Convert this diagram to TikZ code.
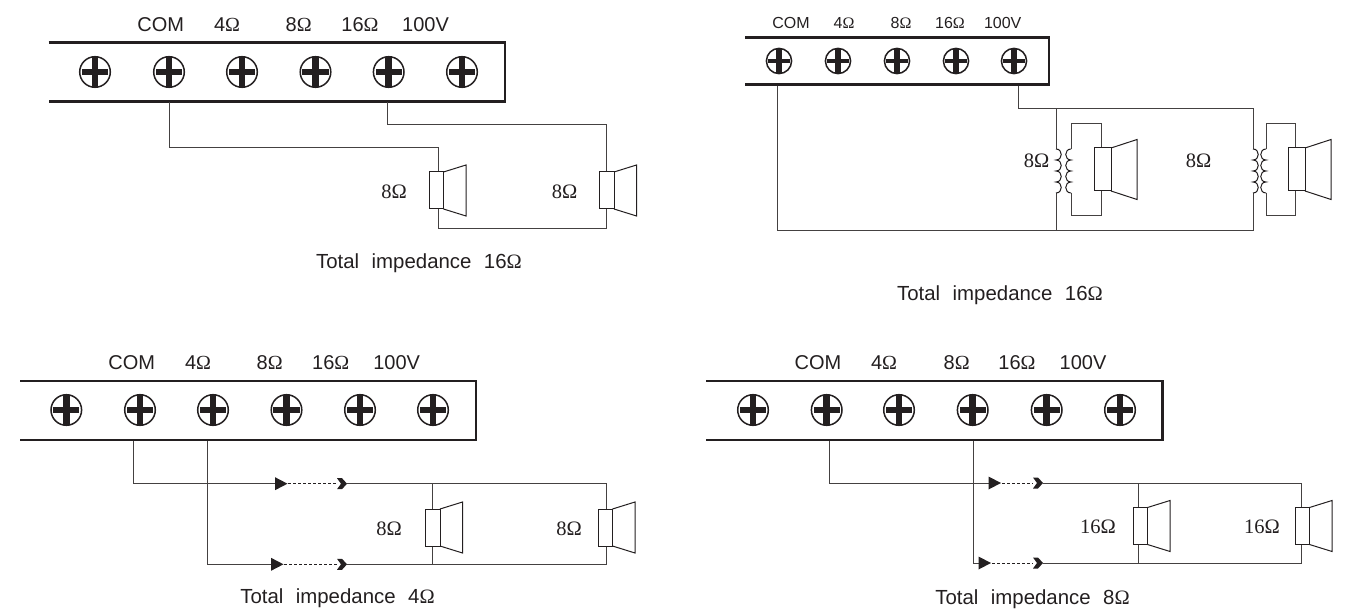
\documentclass[tikz,border=0pt]{standalone}
\usepackage{fontspec}
\setmainfont{Liberation Sans}
\newfontfamily\serifomega{Liberation Serif}
\definecolor{ink}{HTML}{231F20}
\newcommand{\Om}{{\serifomega Ω}}
\newcommand{\gp}{\hspace{12.5pt}}
\tikzset{
  x=1pt,y=-1pt,
  every node/.style={inner sep=0pt,outer sep=0pt,text=ink},
  bar/.style={draw=ink,line width=2.8pt,line join=miter},
  wire/.style={draw=ink!85,line width=1pt,line join=miter},
  thinwire/.style={draw=ink,line width=1pt,dash pattern=on 2.5pt off 2.5pt},
  big/.style={font=\fontsize{20}{22}\selectfont},
  small/.style={font=\fontsize{16}{18}\selectfont},
  ohm/.style={font=\fontsize{20.5}{22}\selectfont\serifomega},
  total/.style={font=\fontsize{20.4}{22}\selectfont},
  pics/screw/.style={code={
    \draw[ink,line width=1.5pt,fill=white] (0,0) circle[radius=#1];
    \fill[ink] (-#1*0.85,-#1*0.19) rectangle (#1*0.85,#1*0.19);
    \fill[ink] (-#1*0.22,-#1*0.95) rectangle (#1*0.22,#1*0.95);
  }},
  pics/speaker/.style={code={
    \draw[ink,line width=1pt,fill=white] (-9,-18.5) rectangle (5.5,18.5);
    \draw[ink,line width=1pt,line join=miter] (5.5,-18.5) -- (28,-25.5) -- (28,25.5) -- (5.5,18.5);
  }},
  pics/bigspeaker/.style={code={
    \draw[ink,line width=1pt,fill=white] (-9,-21.5) rectangle (8,21.5);
    \draw[ink,line width=1pt,line join=miter] (8,-21.5) -- (34,-30) -- (34,30) -- (8,21.5);
  }},
  pics/coil/.style={code={
    \draw[ink,line width=1pt] (0,0)
      .. controls (7,0) and (7,11) .. (0,11)
      .. controls (7,11) and (7,22) .. (0,22)
      .. controls (7,22) and (7,33) .. (0,33)
      .. controls (7,33) and (7,44) .. (0,44);
  }},
  pics/feed/.style={code={
    \fill[ink] (0,-6.5) -- (12.5,0) -- (0,6.5) -- cycle;
  }},
  pics/plug/.style={code={
    \fill[ink] (0,-5.5) -- (5,-5.5) -- (10,0) -- (5,5.5) -- (0,5.5) -- (4,0) -- cycle;
  }},
}
\begin{document}
\begin{tikzpicture}
\useasboundingbox (0,0) rectangle (1348,609);

% ---------- Panel 1
\draw[bar] (48.5,42.5) -| (505,101.5) -- (48.5,101.5);
\foreach \x in {95,169,242,315.5,388.7,462} \pic at (\x,72) {screw=15.3};
\node[big] (a0) at (160.7,25) {COM};
\node[big] (a1) at (227,25) {4\Om};
\node[big] (a2) at (298.7,25) {8\Om};
\node[big] (a3) at (360,25) {16\Om};
\node[big] (a4) at (425.5,25) {100V};
\coordinate (a5) at (169,102);
\coordinate (a6) at (387.3,102);
\coordinate (a7) at (438,172);
\coordinate (a8) at (606,172);
\coordinate (a9) at (438,209);
\coordinate (a10) at (606,209);
\draw[wire] (a5) |- (438,148) -- (a7);
\draw[wire] (a6) |- (606,125) -- (a8);
\draw[wire] (a9) |- (606,229) -- (a10);
\pic at (438,190.5) {speaker};
\pic at (608.5,190.5) {speaker};
\node[ohm] (a11) at (394,192) {8Ω};
\node[ohm] (a12) at (564.5,192) {8Ω};
\node[total] (a13) at (419,263) {Total\gp impedance\gp 16\Om};

% ---------- Panel 2
\draw[bar] (745,37.5) -| (1049,84.5) -- (745,84.5);
\foreach \x in {779,838,897,956,1014} \pic at (\x,61) {screw=12.6};
\node[small] (b0) at (791,23) {COM};
\node[small] (b1) at (844,23) {4\Om};
\node[small] (b2) at (901,23) {8\Om};
\node[small] (b3) at (950,23) {16\Om};
\node[small] (b4) at (1002.7,23) {100V};
\coordinate (b5) at (777.7,86);
\coordinate (b6) at (1018,86);
\coordinate (b7) at (1056,108.5);
\coordinate (b8) at (1056,149);
\coordinate (b9) at (1056,193);
\coordinate (b10) at (1056,231);
\coordinate (b11) at (1253,108.5);
\coordinate (b12) at (1253,149);
\coordinate (b13) at (1253,193);
\coordinate (b14) at (1253,231);
\draw[wire] (b5) |- (b10);
\draw[wire] (b6) |- (b7);
\draw[wire] (b7) -- (b11) -- (b12);
\draw[wire] (b7) -- (b8);
\draw[wire] (b9) -- (b10) -- (b14) -- (b13);
\pic at (b8) {coil};
\pic at (1071,149) [xscale=-1] {coil};
\pic at (b12) {coil};
\pic at (1266,149) [xscale=-1] {coil};
\draw[wire] (1071,149) |- (1101,124) -- (1101,148);
\draw[wire] (1071,193) |- (1101,215.5) -- (1101,191);
\draw[wire] (1266,149) |- (1295,124) -- (1295,148);
\draw[wire] (1266,193) |- (1295,215.5) -- (1295,191);
\pic at (1103,169.5) {bigspeaker};
\pic at (1297,169.5) {bigspeaker};
\node[ohm] (b15) at (1036.5,161) {8Ω};
\node[ohm] (b16) at (1198.5,161) {8Ω};
\node[total] (b17) at (1000,295) {Total\gp impedance\gp 16\Om};

% ---------- Panel 3
\draw[bar] (20,381) -| (476,440) -- (20,440);
\foreach \x in {66.3,140,213,286.5,360,433} \pic at (\x,410) {screw=15.3};
\node[big] (c0) at (131.7,363) {COM};
\node[big] (c1) at (198,363) {4\Om};
\node[big] (c2) at (269.7,363) {8\Om};
\node[big] (c3) at (330.7,363) {16\Om};
\node[big] (c4) at (396.7,363) {100V};
\coordinate (c5) at (133.5,441);
\coordinate (c6) at (207,441);
\coordinate (c7) at (275,483.7);
\coordinate (c8) at (288,483.7);
\coordinate (c9) at (337,483.7);
\coordinate (c10) at (347,483.7);
\coordinate (c11) at (271,564.3);
\coordinate (c12) at (284,564.3);
\coordinate (c13) at (337,564.3);
\coordinate (c14) at (347,564.3);
\coordinate (c15) at (432,483.7);
\coordinate (c16) at (432,564.3);
\coordinate (c17) at (606,483.7);
\coordinate (c18) at (606,564.3);
\draw[wire] (c5) |- (c7);
\draw[wire] (c6) |- (c11);
\draw[thinwire] (c8) -- (c9);
\draw[thinwire] (c12) -- (c13);
\draw[wire] (c10) -- (c17) -- (c18) -- (c14);
\draw[wire] (c15) -- (c16);
\pic at (c7) {feed};
\pic at (c11) {feed};
\pic at (c9) {plug};
\pic at (c13) {plug};
\pic at (434.5,527.5) {speaker};
\pic at (607,527.5) {speaker};
\node[ohm] (c19) at (389,529) {8Ω};
\node[ohm] (c20) at (569,529) {8Ω};
\node[total] (c21) at (337.5,598.5) {Total\gp impedance\gp 4\Om};

% ---------- Panel 4
\draw[bar] (706,381) -| (1162.7,440) -- (706,440);
\foreach \x in {753,826.7,899,972.7,1046.7,1120} \pic at (\x,410) {screw=15.3};
\node[big] (d0) at (818,363) {COM};
\node[big] (d1) at (884,363) {4\Om};
\node[big] (d2) at (956.7,363) {8\Om};
\node[big] (d3) at (1017,363) {16\Om};
\node[big] (d4) at (1083,363) {100V};
\coordinate (d5) at (829,441);
\coordinate (d6) at (973,441);
\coordinate (d7) at (988.5,483);
\coordinate (d8) at (1002,483);
\coordinate (d9) at (1033,483);
\coordinate (d10) at (1043,483);
\coordinate (d11) at (978.5,563);
\coordinate (d12) at (992,563);
\coordinate (d13) at (1033,563);
\coordinate (d14) at (1043,563);
\coordinate (d15) at (1138,483);
\coordinate (d16) at (1138,563);
\coordinate (d17) at (1301,483);
\coordinate (d18) at (1301,563);
\draw[wire] (d5) |- (d7);
\draw[wire] (d6) |- (d11);
\draw[thinwire] (d8) -- (d9);
\draw[thinwire] (d12) -- (d13);
\draw[wire] (d10) -- (d17) -- (d18) -- (d14);
\draw[wire] (d15) -- (d16);
\pic at (d7) {feed};
\pic at (d11) {feed};
\pic at (d9) {plug};
\pic at (d13) {plug};
\pic at (1142,526) {speaker};
\pic at (1304,526) {speaker};
\node[ohm] (d19) at (1098,527) {16Ω};
\node[ohm] (d20) at (1262,527) {16Ω};
\node[total] (d21) at (1032.5,599) {Total\gp impedance\gp 8\Om};
\end{tikzpicture}
\end{document}
